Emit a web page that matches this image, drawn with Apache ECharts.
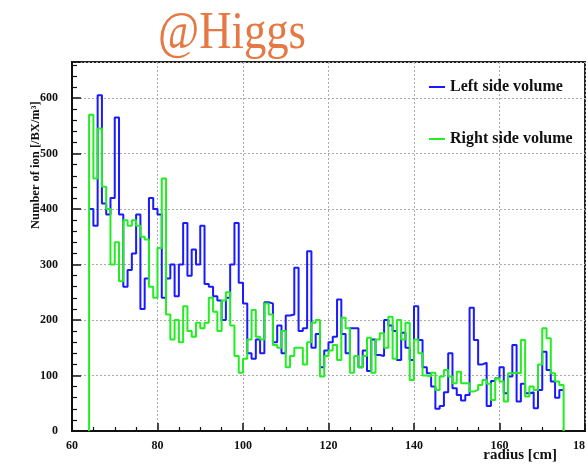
<!DOCTYPE html>
<html>
<head>
<meta charset="utf-8">
<script src="https://cdn.jsdelivr.net/npm/echarts@6/dist/echarts.min.js"></script>
<style>
html,body{margin:0;padding:0;background:#fff;}
#c{width:588px;height:464px;}
</style>
</head>
<body>
<div id="c"></div>
<script>
// Bin left edges (cm), bin width 1 cm
const radius = [];
for (let r = 64; r <= 174; r++) radius.push(r);
const binEnd = 175;

const leftSide = [
400,370,605,410,390,420,565,390,260,290,320,390,220,275,420,400,390,240,275,300,243,300,375,280,327,300,370,265,260,243,235,200,240,300,375,267,230,
140,130,165,140,232,230,160,190,140,208,210,294,180,185,324,150,175,115,145,160,
170,237,175,140,185,185,115,145,108,165,137,135,200,190,180,128,177,150,128,225,
164,115,104,80,40,45,70,140,77,65,55,65,222,164,120,123,45,90,95,115,
68,98,155,53,85,68,70,41,74,143,110,89,60,74
];
const rightSide = [
570,455,545,440,400,300,340,270,380,370,380,370,350,345,260,240,330,455,210,165,200,160,225,180,170,195,185,195,240,215,180,235,250,190,135,105,130,
165,218,170,165,230,210,155,150,180,115,135,150,150,120,160,195,200,98,135,145,
155,128,204,185,105,135,115,135,168,105,165,176,150,206,130,200,165,195,92,165,
140,100,98,105,74,98,110,98,86,107,86,86,71,74,83,92,85,56,95,89,
53,104,105,104,164,62,80,74,120,185,167,104,89,83
];
const seriesNames = ['Left side volume', 'Right side volume'];
const xTicks = [60, 80, 100, 120, 140, 160, 180];
const xTickLabels = ['60', '80', '100', '120', '140', '160', '18'];
const yTicks = [0, 100, 200, 300, 400, 500, 600];

const blueData = radius.map((r, i) => [r, leftSide[i]]);
blueData.push([binEnd, leftSide[leftSide.length - 1]]);
const greenData = [[radius[0], 0]].concat(radius.map((r, i) => [r, rightSide[i]]));
greenData.push([binEnd, rightSide[rightSide.length - 1]]);
greenData.push([binEnd, 0]);

const serif = 'Liberation Serif';
const chart = echarts.init(document.getElementById('c'), null, {renderer: 'canvas'});
chart.setOption({
  animation: false,
  backgroundColor: '#fff',
  grid: {left: 72, right: 3, top: 62, bottom: 33, show: true, borderColor: '#222', borderWidth: 2, backgroundColor: 'transparent'},
  legend: {
    orient: 'vertical', left: 424, top: 74, itemGap: 36,
    icon: 'rect', itemWidth: 16, itemHeight: 2,
    textStyle: {fontFamily: serif, fontWeight: 'bold', fontSize: 16, color: '#111'},
    data: seriesNames
  },
  xAxis: {
    type: 'value', min: xTicks[0], max: xTicks[xTicks.length - 1], interval: 20,
    axisLine: {show: true, lineStyle: {color: '#111', width: 2}},
    axisTick: {show: true, inside: true, length: 8, lineStyle: {color: '#111', width: 1.5}},
    minorTick: {show: true, splitNumber: 4, length: 4, lineStyle: {color: '#111', width: 1.2}},
    axisLabel: {fontFamily: serif, fontWeight: 'bold', fontSize: 12, color: '#111', margin: 9,
      alignMaxLabel: 'right',
      formatter: v => { const k = xTicks.indexOf(v); return k >= 0 ? xTickLabels[k] : ''; }},
    splitLine: {show: true, lineStyle: {color: '#aaa', type: [2, 2], width: 1}}
  },
  yAxis: {
    type: 'value', min: 0, max: 665, interval: 100,
    axisLine: {show: true, lineStyle: {color: '#111', width: 2}},
    axisTick: {show: true, inside: true, length: 9, lineStyle: {color: '#111', width: 1.5}},
    minorTick: {show: true, splitNumber: 5, length: 5, lineStyle: {color: '#111', width: 1.2}},
    axisLabel: {fontFamily: serif, fontWeight: 'bold', fontSize: 12, color: '#111', margin: 14,
      formatter: v => (yTicks.indexOf(v) >= 0 ? String(v) : '')},
    splitLine: {show: true, lineStyle: {color: '#aaa', type: [2, 2], width: 1}}
  },
  series: [
    {name: seriesNames[0], type: 'line', step: 'end', data: blueData, symbol: 'none', showSymbol: false,
     lineStyle: {color: '#1a1aff', width: 2}, itemStyle: {color: '#1a1aff'}},
    {name: seriesNames[1], type: 'line', step: 'end', data: greenData, symbol: 'none', showSymbol: false,
     lineStyle: {color: '#22ee22', width: 2}, itemStyle: {color: '#22ee22'}}
  ],
  graphic: [
    {type: 'text', x: 232, y: 34, scaleX: 0.86, style: {text: '@Higgs', fontFamily: serif, fontSize: 52, fill: '#E57843', textAlign: 'center', textVerticalAlign: 'middle'}},
    {type: 'text', x: 557, y: 455, style: {text: 'radius [cm]', fontFamily: serif, fontWeight: 'bold', fontSize: 15, fill: '#111', textAlign: 'right', textVerticalAlign: 'middle'}},
    {type: 'text', x: 36, y: 229, rotation: Math.PI / 2, style: {text: 'Number of ion [/BX/m³]', fontFamily: serif, fontWeight: 'bold', fontSize: 12.5, fill: '#111', textAlign: 'left', textVerticalAlign: 'middle'}}
  ]
});
</script>
</body>
</html>
